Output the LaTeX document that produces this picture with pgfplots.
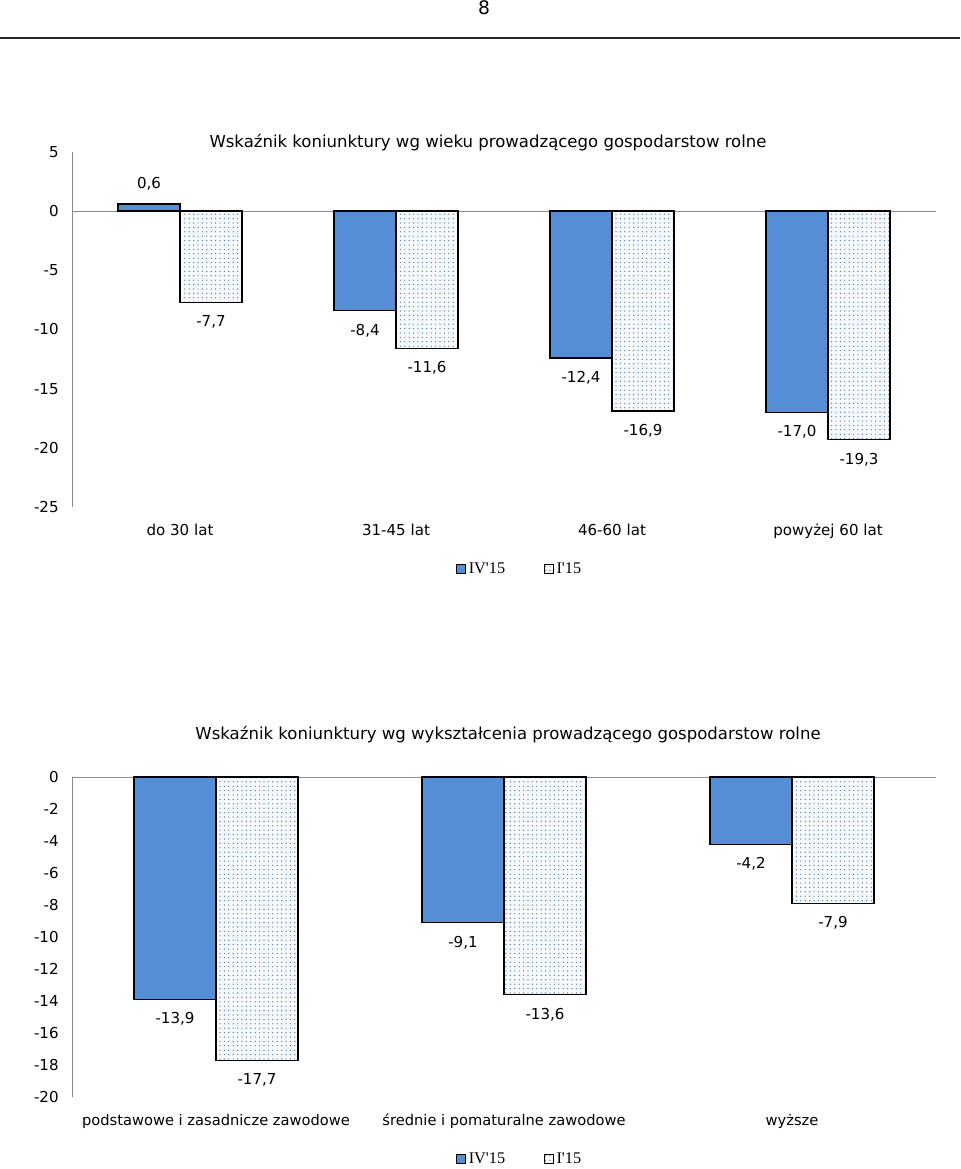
\documentclass[border=0pt]{standalone}
\usepackage{fontspec}
\setmainfont{DejaVu Sans}
\newfontfamily\legfont{Liberation Serif}
\usepackage{pgfplots}
\pgfplotsset{compat=1.18}
\usetikzlibrary{patterns}
\definecolor{barblue}{HTML}{558ED5}
\definecolor{patbg}{HTML}{F6F9FC}
\definecolor{patdot}{HTML}{52739A}
\definecolor{axgray}{HTML}{8C8C8C}
\newcommand\mainfs{\fontsize{11.3}{13.5}\selectfont}
\newcommand\titlefs{\fontsize{12.4}{14.5}\selectfont}
\newcommand\legfs{\legfont\fontsize{12.2}{14}\selectfont}

\pgfdeclarepatternformonly{mydots}{\pgfqpoint{-1pt}{-1pt}}{\pgfqpoint{1pt}{1pt}}{\pgfqpoint{3.3pt}{3.3pt}}{\pgfpathcircle{\pgfqpoint{0pt}{0pt}}{0.5pt}\pgfusepath{fill}}

\pgfplotsset{
  mybars/.style={
    scale only axis,
    width=648pt,
    ybar=0pt,
    xmin=-0.5, xmax=3.5,
    xtick={0,1,2,3},
    major tick length=0pt,
    axis lines*=left,
    x axis line style={draw=none},
    y axis line style={draw=axgray, line width=0.75pt},
    tick label style={font=\mainfs},
    yticklabel style={anchor=east, xshift=-6.5pt},
    xticklabel style={yshift=-9pt, text height=8.6pt, text depth=2.6pt},
    nodes near coords,
    nodes near coords align=vertical,
    every node near coord/.append style={font=\mainfs, inner ysep=9.5pt,
      /pgf/number format/fixed, /pgf/number format/fixed zerofill,
      /pgf/number format/precision=1, /pgf/number format/use comma,
      /pgf/number format/assume math mode=true},
    legend columns=2,
    legend style={draw=none, fill=none, font=\legfs, anchor=center,
      /tikz/every even column/.append style={column sep=27pt}},
    legend image code/.code={\draw[#1, line width=0.9pt] (0pt,-3.3pt) rectangle (6.6pt,3.3pt);},
    clip=false,
  },
  bluebar/.style={fill=barblue, draw=black, line width=1pt},
  patbar/.style={fill=patbg, draw=black, line width=1pt, postaction={pattern=mydots, pattern color=patdot}},
}

\begin{document}
\begin{tikzpicture}
\useasboundingbox (0,0) rectangle (720pt,-876.75pt);
\node[font=\fontsize{14}{16}\selectfont] at (363pt,-6pt) {8};
\draw[line width=1.5pt, black!85] (0,-28.5pt) -- (720pt,-28.5pt);

\node[font=\titlefs] at (366pt,-107.25pt) {Wskaźnik koniunktury wg wieku prowadzącego gospodarstow rolne};
\node[font=\titlefs] at (381pt,-551.25pt) {Wskaźnik koniunktury wg wykształcenia prowadzącego gospodarstow rolne};

% top chart
\begin{axis}[mybars,
  at={(54pt,-114pt)}, anchor=north west,
  height=266.25pt,
  ymin=-25, ymax=5,
  ytick={-25,-20,-15,-10,-5,0,5},
  yticklabels={-25,-20,-15,-10,-5,0,5},
  bar width=46.5pt,
  xticklabels={do 30 lat, 31-45 lat, 46-60 lat, powyżej 60 lat},
  legend style={at={(axis description cs:0.5185,-0.1746)}},
]
\draw[axgray, line width=0.75pt] (axis cs:-0.5,0) -- (axis cs:3.5,0);
\addplot[bluebar] coordinates {(0,0.6) (1,-8.4) (2,-12.4) (3,-17.0)};
\addplot[patbar] coordinates {(0,-7.7) (1,-11.6) (2,-16.9) (3,-19.3)};
\legend{IV'15, I'15}
\end{axis}

% bottom chart
\begin{axis}[mybars,
  at={(54pt,-582.75pt)}, anchor=north west,
  height=240pt,
  xmin=-0.5, xmax=2.5,
  xtick={0,1,2},
  ymin=-20, ymax=0,
  ytick={-20,-18,-16,-14,-12,-10,-8,-6,-4,-2,0},
  yticklabels={-20,-18,-16,-14,-12,-10,-8,-6,-4,-2,0},
  bar width=61.5pt,
  xticklabel style={font=\fontsize{11}{13}\selectfont},
  xticklabels={podstawowe i zasadnicze zawodowe, średnie i pomaturalne zawodowe, wyższe},
  legend style={at={(axis description cs:0.5185,-0.194)}},
]
\draw[axgray, line width=0.75pt] (axis cs:-0.5,0) -- (axis cs:2.5,0);
\addplot[bluebar] coordinates {(0,-13.9) (1,-9.1) (2,-4.2)};
\addplot[patbar] coordinates {(0,-17.7) (1,-13.6) (2,-7.9)};
\legend{IV'15, I'15}
\end{axis}
\end{tikzpicture}
\end{document}
